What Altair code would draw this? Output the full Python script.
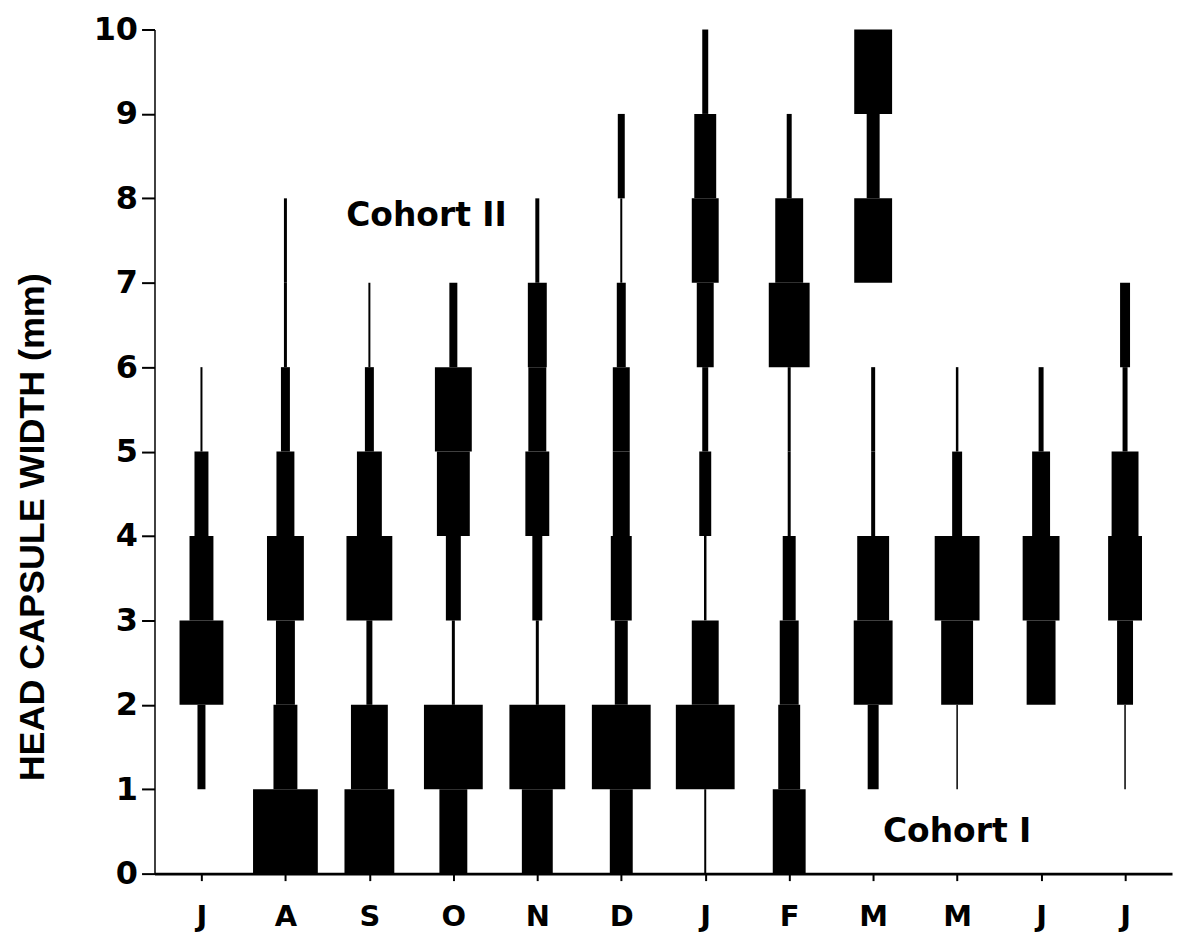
import json
import altair as alt
import pandas as pd

# Month tick labels (x axis)
months = ["J", "A", "S", "O", "N", "D", "J", "F", "M", "M", "J", "J"]
# Lower bound of each 1-mm head capsule width class
class_lower = [0, 1, 2, 3, 4, 5, 6, 7, 8, 9]

# Relative frequency (bar width, px) of each size class per month
w_jul = [0, 8, 44, 24, 14, 2, 0, 0, 0, 0]
w_aug = [65, 24, 19, 37, 18, 9, 3, 3, 0, 0]
w_sep = [50, 37, 6, 46, 25, 9, 2, 0, 0, 0]
w_oct = [28, 59, 3, 15, 33, 37, 8, 0, 0, 0]
w_nov = [31, 56, 3, 10, 24, 18, 19, 4, 0, 0]
w_dec = [23, 59, 13, 21, 17, 17, 9, 2, 7, 0]
w_jan = [2, 59, 27, 2.5, 12, 6, 17, 27, 22, 6]
w_feb = [33, 22, 19, 13, 3, 3, 41, 28, 5, 0]
w_mar = [0, 11, 39, 32, 4, 4, 0, 38, 13, 38]
w_may = [0, 1.5, 32, 45, 10, 2.5, 0, 0, 0, 0]
w_jun = [0, 0, 29, 37, 18, 5, 0, 0, 0, 0]
w_jul2 = [0, 1.5, 16, 34, 27, 5, 10, 0, 0, 0]

widths = [w_jul, w_aug, w_sep, w_oct, w_nov, w_dec,
          w_jan, w_feb, w_mar, w_may, w_jun, w_jul2]

# Annotations
ann_text = ["Cohort II", "Cohort I"]
ann_x = [2.68, 9.0]
ann_y = [7.79, 0.49]

rows = []
for i, ws in enumerate(widths):
    for lo, w in zip(class_lower, ws):
        if w > 0:
            rows.append({"m": i, "lo": lo, "hi": lo + 1, "w": w})
df = pd.DataFrame(rows)
df_ann = pd.DataFrame({"t": ann_text, "x": ann_x, "y": ann_y})

label_expr = json.dumps(months) + "[datum.value]"

xscale = alt.Scale(domain=[-0.5, 11.5], nice=False, zero=False)
yscale = alt.Scale(domain=[0, 10], nice=False)

bars = alt.Chart(df).mark_bar(color="black").encode(
    x=alt.X("m:Q", scale=xscale,
            axis=alt.Axis(values=list(range(12)), labelExpr=label_expr, title=None,
                          grid=False, domainWidth=3, domainColor="black",
                          tickSize=7, tickWidth=2, tickColor="black",
                          labelFont="DejaVu Sans", labelFontWeight="bold",
                          labelFontSize=29, labelColor="black", labelPadding=22)),
    y=alt.Y("lo:Q", scale=yscale,
            axis=alt.Axis(values=list(range(11)), format="d",
                          title="HEAD CAPSULE WIDTH (mm)",
                          grid=False, domainWidth=1.5, domainColor="black",
                          tickSize=13, tickWidth=2, tickColor="black",
                          labelFont="DejaVu Sans", labelFontWeight="bold",
                          labelFontSize=32, labelColor="black", labelPadding=4,
                          titleFont="Liberation Sans", titleFontWeight="bold",
                          titleFontSize=36, titleColor="black",
                          titleAngle=270, titleAlign="center", titleBaseline="middle",
                          titleX=-122, titleY=499)),
    y2="hi:Q",
    size=alt.Size("w:Q", scale=None, legend=None),
)

ann = alt.Chart(df_ann).mark_text(
    font="DejaVu Sans", fontSize=33, fontWeight="bold", color="black",
    align="center", baseline="middle"
).encode(
    x=alt.X("x:Q", scale=xscale),
    y=alt.Y("y:Q", scale=yscale),
    text="t:N",
)

chart = alt.layer(bars, ann).properties(
    width=1021, height=847,
    autosize=alt.AutoSizeParams(type="none"),
    padding={"left": 147, "top": 20, "right": 5, "bottom": 62},
).configure_view(strokeWidth=0)

chart.save("out.html", embed_options={"renderer": "svg", "actions": False})
